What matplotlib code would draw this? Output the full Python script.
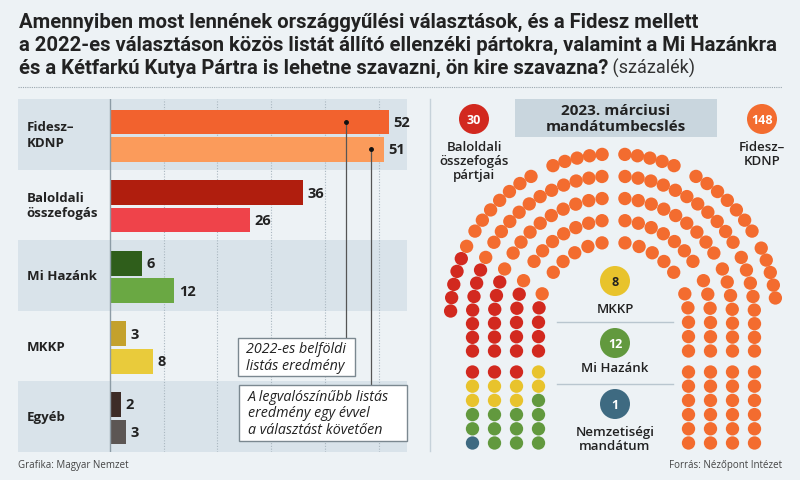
import numpy as np
import matplotlib
matplotlib.use("Agg")
import matplotlib.pyplot as plt
from matplotlib.patches import Rectangle, Circle

# ---- bar chart data (százalék)
categories = ["Fidesz–\nKDNP", "Baloldali\nösszefogás", "Mi Hazánk", "MKKP", "Egyéb"]
result_2022 = [52, 36, 6, 3, 2]
estimate_2023 = [51, 26, 12, 8, 3]
colors_2022 = ["#f2622e", "#b01e0e", "#2f5e1b", "#c4a12c", "#3d2c27"]
colors_2023 = ["#fb9b5b", "#ef434a", "#6aa843", "#e9cb3b", "#5c5654"]

# ---- seat estimate data (mandátum)
seat_labels = ["Fidesz–\nKDNP", "Baloldali\nösszefogás\npártjai", "MKKP", "Mi Hazánk",
               "Nemzetiségi\nmandátum"]
seats = [148, 30, 8, 12, 1]
seat_colors = ["#f36c2f", "#d2291f", "#e8c32c", "#62993e", "#3e6a81"]

BG = "#edf2f5"
BAND = "#d9e3ea"
DARK = "#222222"
plt.rcParams["font.family"] = ["Open Sans", "DejaVu Sans"]

fig = plt.figure(figsize=(8, 4.81), dpi=100, facecolor=BG)

# ---------------- bar chart ----------------
bx = fig.add_axes([18 / 800, (481 - 453) / 481, (407 - 18) / 800, (453 - 100) / 481])
bx.set_xlim(-17.13, 55.3)
bx.set_ylim(5, 0)
bx.axis("off")
for i in range(len(categories)):
    if i % 2 == 0:
        bx.axhspan(i, i + 1, color=BAND, lw=0, zorder=0)
for v in range(10, 60, 10):
    bx.axvline(v, color="#aab7c0", ls=(0, (1, 1.5)), lw=0.8, zorder=1)
bx.axvline(0, color="#8d9ca6", lw=1, zorder=3)

pos = np.arange(len(categories))
bx.barh(pos + 0.325, result_2022, height=0.35, color=colors_2022, zorder=2)
bx.barh(pos + 0.715, estimate_2023, height=0.35, color=colors_2023, zorder=2)
for i in range(len(categories)):
    bx.text(result_2022[i] + 0.8, pos[i] + 0.325, str(result_2022[i]), va="center",
            ha="left", fontsize=10.5, fontweight="bold", color=DARK, zorder=6)
    bx.text(estimate_2023[i] + 0.8, pos[i] + 0.715, str(estimate_2023[i]), va="center",
            ha="left", fontsize=10.5, fontweight="bold", color=DARK, zorder=6)
    bx.text(-15.5, pos[i] + 0.5, categories[i], va="center", ha="left", fontsize=9.5,
            fontweight="bold", color=DARK, linespacing=1.25)

# leader lines from the bars to the explanation boxes
bx.plot([44, 44], [0.325, 3.385], color="#555555", lw=0.9, zorder=4)
bx.plot([48.6, 48.6], [0.715, 4.05], color="#555555", lw=0.9, zorder=4)
bx.plot([44, 48.6], [0.325, 0.715], "o", color="#111111", ms=2.5, zorder=5)

# ---------------- overlay in pixel units ----------------
ax = fig.add_axes([0, 0, 1, 1], zorder=5)
ax.set_xlim(0, 800)
ax.set_ylim(481, 0)
ax.axis("off")

title_kw = dict(fontsize=14.6, fontweight="bold", family="Roboto", color=DARK, va="center")
ax.text(19, 22, "Amennyiben most lennének országgyűlési választások, és a Fidesz mellett",
        **title_kw)
ax.text(19, 45, "a 2022-es választáson közös listát állító ellenzéki pártokra, valamint a Mi Hazánkra",
        **title_kw)
t3 = ax.text(19, 68, "és a Kétfarkú Kutya Pártra is lehetne szavazni, ön kire szavazna?",
             **title_kw)
ax.annotate(" (százalék)", xy=(1, 0.5), xycoords=t3, va="center", ha="left",
            fontsize=13, family="Roboto", color="#333333")
ax.plot([18, 782], [88, 88], color="#9aa6ae", ls=(0, (1, 1)), lw=0.8)

# explanation boxes
ax.add_patch(Rectangle((238, 339), 117, 38, fc="white", ec="#7b8890", lw=1, zorder=6))
ax.text(246, 358, "2022-es belföldi\nlistás eredmény", fontsize=10.3, style="italic",
        color=DARK, va="center", ha="left", linespacing=1.15, zorder=7)
ax.add_patch(Rectangle((239, 386), 168, 56, fc="white", ec="#7b8890", lw=1, zorder=6))
ax.text(248, 414, "A legvalószínűbb listás\neredmény egy évvel\na választást követően",
        fontsize=10.3, style="italic", color=DARK, va="center", ha="left",
        linespacing=1.15, zorder=7)

ax.text(18, 466, "Grafika: Magyar Nemzet", fontsize=7, color="#444444", va="center")
ax.text(782, 466, "Forrás: Nézőpont Intézet", fontsize=7, color="#444444", va="center",
        ha="right")

# panel separator
ax.plot([430, 430], [100, 452], color="#c6d2da", lw=1)

# ---------------- hemicycle ----------------
ax.add_patch(Rectangle((515, 100), 202, 38, fc="#c9d6de", ec="none"))
ax.text(616, 119, "2023. márciusi\nmandátumbecslés", fontsize=11, fontweight="bold",
        color=DARK, ha="center", va="center", linespacing=1.1)

cx, cy = 613.5, 318
radii = [163, 141, 119, 97, 75]
# upper sector segments per row: (count, start angle, end angle)
upper = [[(5, 86, 68.2), (7, 59.6, 31.8)],
         [(11, 85.3, 32)],
         [(9, 84.5, 32.5)],
         [(7, 83.2, 35)],
         [(5, 81.2, 36.6)]]
# lower sector per row: (count, start angle, end angle, vertical drop)
lower_right = [(5, 25, 6.7, 0), (8, 25, 0, 34), (7, 23.8, 0, 34), (6, 22, 0, 34), (5, 18, 0, 34)]
lower_left = [(6, 25.7, 2.1, 0)] + lower_right[1:]
block_rows = np.linspace(373, 444, 6)


def arc_pts(r, n, a0, a1, drop):
    arc = np.radians(a0 - a1) * r
    out = []
    for d in np.linspace(0, arc + drop, n):
        if d <= arc + 1e-9:
            a = np.radians(a0) - d / r
            out.append((r * np.cos(a), -r * np.sin(a)))
        else:
            out.append((r, d - arc))
    return out


def half(side, lower):
    up, low, blk = [], [], []
    for k, r in enumerate(radii):
        for n, a0, a1 in upper[k]:
            up += [(cx + side * dx, cy + dy) for dx, dy in arc_pts(r, n, a0, a1, 0)]
        n, a0, a1, drop = lower[k]
        pts = arc_pts(r, n, a0, a1, drop)
        low += [(j, k, cx + side * dx, cy + dy) for j, (dx, dy) in enumerate(pts)]
    for m, y in enumerate(block_rows):
        row = sorted([cx + side * r for r in radii[1:]])
        if m % 2 == 1:
            row = row[::-1]
        blk += [(x, y) for x in row]
    low = [(x, y) for j, k, x, y in sorted(low)]
    return up + low + blk


order = half(1, lower_right) + half(-1, lower_left)
seat_xy = np.array(order)
cols = np.repeat(seat_colors, seats)
ax.scatter(seat_xy[:, 0], seat_xy[:, 1], s=92, c=cols, lw=0, zorder=4)

# legend bubbles (same order as seats)
bubbles = [(762, 120), (474, 120), (615, 282), (615, 344), (615, 405)]
label_y = [155, 162, 310, 369, 440]
for i, (x, y) in enumerate(bubbles):
    ax.add_patch(Circle((x, y), 15, fc=seat_colors[i], ec="none", zorder=5))
    ax.text(x, y + 0.5, str(seats[i]), ha="center", va="center", fontsize=9,
            fontweight="bold", color=DARK if i == 2 else "white", zorder=6)
    ax.text(x, label_y[i], seat_labels[i], ha="center", va="center", fontsize=9.5,
            fontweight="semibold", color=DARK, linespacing=1.1, zorder=6)
ax.plot([557, 673], [323, 323], color="#b9c6cf", lw=1)
ax.plot([557, 673], [385, 385], color="#b9c6cf", lw=1)

fig.savefig("out.png", dpi=100, facecolor=BG)
